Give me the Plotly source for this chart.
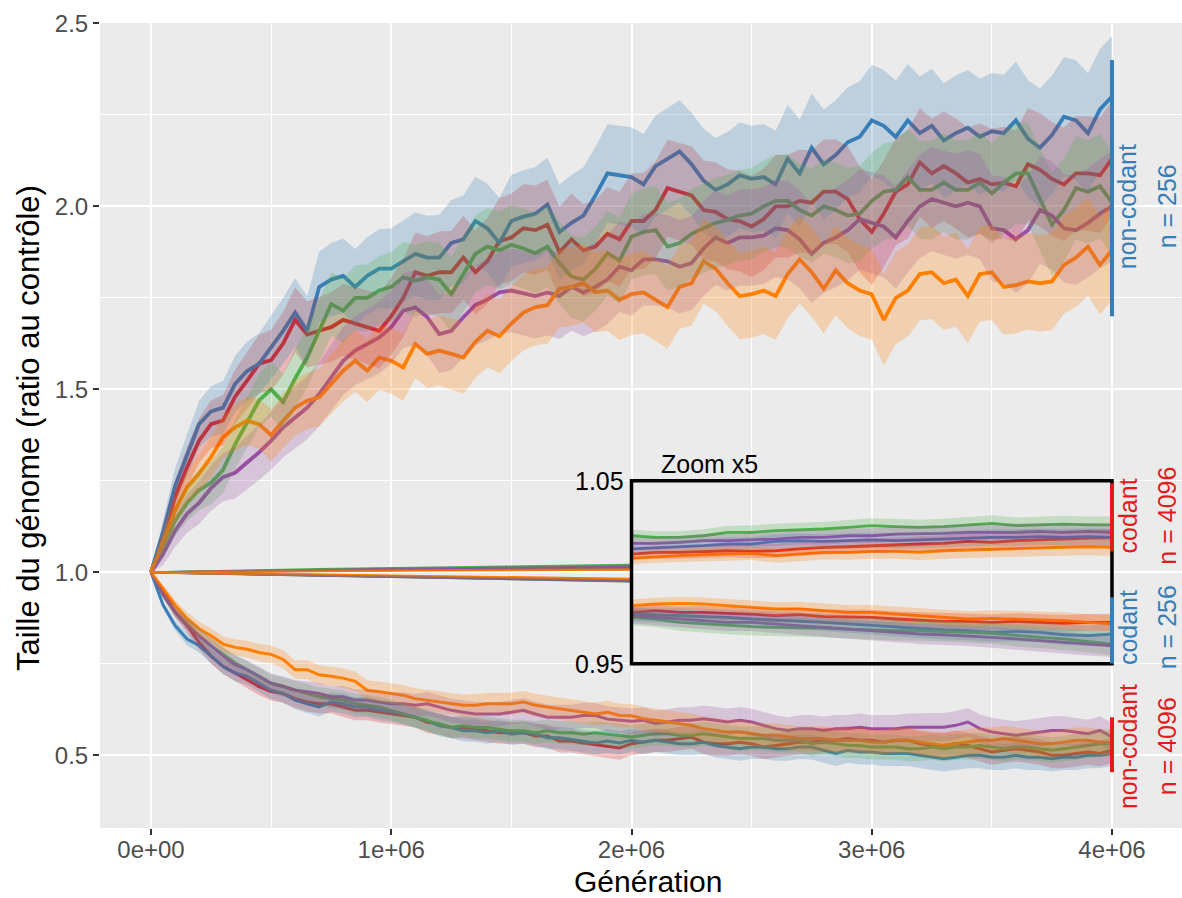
import plotly.graph_objects as go

# ---------------------------------------------------------------------------
# Data: genome size relative to control, 5 replicate lineages per condition
# ---------------------------------------------------------------------------
GENERATIONS = list(range(0, 4_000_001, 50_000))          # non-coding runs
GENERATIONS_CODING = list(range(0, 4_000_001, 100_000))  # coding runs

# non-coding, n = 256
NC256_RED = [1.000, 1.096, 1.205, 1.287, 1.360, 1.405, 1.415, 1.480, 1.524, 1.570,
             1.580, 1.625, 1.690, 1.650, 1.660, 1.670, 1.690, 1.680, 1.670, 1.660,
             1.700, 1.750, 1.820, 1.810, 1.820, 1.820, 1.860, 1.820, 1.850, 1.905,
             1.915, 1.940, 1.935, 1.950, 1.875, 1.910, 1.880, 1.890, 1.925, 1.910,
             1.960, 1.960, 1.990, 2.050, 2.040, 2.030, 1.990, 1.985, 1.965, 1.960,
             1.945, 1.965, 2.000, 2.000, 2.015, 2.010, 2.040, 2.040, 2.020, 1.965,
             1.930, 1.980, 2.040, 2.060, 2.120, 2.090, 2.110, 2.090, 2.065, 2.075,
             2.060, 2.065, 2.055, 2.115, 2.100, 2.075, 2.060, 2.090, 2.090, 2.085,
             2.130]
NC256_BLUE = [1.000, 1.110, 1.235, 1.320, 1.405, 1.440, 1.450, 1.515, 1.550, 1.570,
              1.615, 1.660, 1.710, 1.660, 1.780, 1.800, 1.810, 1.780, 1.810, 1.830,
              1.830, 1.850, 1.870, 1.860, 1.860, 1.900, 1.910, 1.960, 1.940, 1.900,
              1.960, 1.972, 1.980, 2.005, 1.930, 1.955, 1.975, 2.030, 2.090, 2.085,
              2.080, 2.060, 2.110, 2.130, 2.150, 2.115, 2.070, 2.045, 2.060, 2.085,
              2.075, 2.080, 2.060, 2.130, 2.090, 2.160, 2.115, 2.140, 2.175, 2.190,
              2.235, 2.220, 2.190, 2.235, 2.200, 2.220, 2.180, 2.200, 2.215, 2.190,
              2.205, 2.200, 2.235, 2.185, 2.160, 2.195, 2.245, 2.235, 2.200, 2.265,
              2.300]
NC256_GREEN = [1.000, 1.068, 1.141, 1.190, 1.225, 1.245, 1.280, 1.350, 1.410, 1.470,
               1.500, 1.465, 1.530, 1.587, 1.660, 1.733, 1.715, 1.750, 1.750, 1.770,
               1.780, 1.806, 1.797, 1.806, 1.800, 1.760, 1.815, 1.870, 1.890, 1.880,
               1.895, 1.885, 1.872, 1.890, 1.845, 1.808, 1.800, 1.830, 1.872, 1.852,
               1.917, 1.930, 1.935, 1.890, 1.900, 1.925, 1.940, 1.955, 1.963, 1.975,
               1.980, 2.000, 2.015, 2.015, 1.990, 1.975, 2.000, 1.990, 1.975, 1.980,
               2.015, 2.040, 2.045, 2.080, 2.045, 2.045, 2.065, 2.045, 2.045, 2.065,
               2.035, 2.065, 2.090, 2.090, 2.020, 1.950, 1.990, 2.050, 2.040, 2.055,
               2.010]
NC256_PURPLE = [1.000, 1.050, 1.114, 1.160, 1.190, 1.230, 1.260, 1.272, 1.300, 1.328,
                1.360, 1.396, 1.423, 1.450, 1.487, 1.533, 1.578, 1.606, 1.624, 1.642,
                1.670, 1.715, 1.724, 1.697, 1.651, 1.660, 1.697, 1.730, 1.745, 1.765,
                1.770, 1.763, 1.755, 1.765, 1.755, 1.780, 1.765, 1.780, 1.800, 1.835,
                1.825, 1.855, 1.855, 1.850, 1.835, 1.845, 1.885, 1.915, 1.900, 1.915,
                1.915, 1.920, 1.940, 1.935, 1.910, 1.870, 1.900, 1.915, 1.935, 1.965,
                1.955, 1.945, 1.915, 1.960, 2.000, 2.020, 2.010, 2.000, 2.010, 2.000,
                1.940, 1.935, 1.910, 1.935, 1.990, 1.975, 1.940, 1.935, 1.955, 1.980,
                2.000]
NC256_ORANGE = [1.000, 1.087, 1.169, 1.232, 1.270, 1.315, 1.370, 1.396, 1.414, 1.405,
                1.375, 1.414, 1.450, 1.469, 1.478, 1.515, 1.551, 1.578, 1.551, 1.587,
                1.578, 1.560, 1.624, 1.597, 1.606, 1.597, 1.587, 1.630, 1.660, 1.645,
                1.680, 1.710, 1.725, 1.730, 1.775, 1.780, 1.790, 1.765, 1.770, 1.745,
                1.760, 1.765, 1.745, 1.725, 1.780, 1.790, 1.850, 1.830, 1.790, 1.755,
                1.760, 1.770, 1.755, 1.815, 1.855, 1.820, 1.775, 1.825, 1.790, 1.770,
                1.760, 1.690, 1.750, 1.770, 1.815, 1.820, 1.790, 1.800, 1.755, 1.815,
                1.820, 1.780, 1.785, 1.795, 1.790, 1.795, 1.840, 1.860, 1.890, 1.840,
                1.880]

# non-coding, n = 4096
NC4096_RED = [1.000, 0.948, 0.892, 0.855, 0.809, 0.771, 0.743, 0.725, 0.706, 0.688,
              0.674, 0.669, 0.655, 0.646, 0.641, 0.641, 0.632, 0.623, 0.623, 0.618,
              0.613, 0.609, 0.604, 0.590, 0.586, 0.576, 0.576, 0.572, 0.567, 0.562,
              0.562, 0.562, 0.553, 0.553, 0.539, 0.539, 0.534, 0.530, 0.525, 0.520,
              0.532, 0.536, 0.541, 0.541, 0.546, 0.550, 0.536, 0.532, 0.532, 0.536,
              0.532, 0.523, 0.527, 0.532, 0.536, 0.536, 0.541, 0.541, 0.546, 0.541,
              0.541, 0.536, 0.541, 0.541, 0.532, 0.527, 0.527, 0.532, 0.527, 0.518,
              0.509, 0.514, 0.518, 0.514, 0.509, 0.500, 0.500, 0.505, 0.509, 0.505,
              0.514]
NC4096_BLUE = [1.000, 0.911, 0.855, 0.818, 0.800, 0.771, 0.743, 0.725, 0.716, 0.697,
               0.678, 0.669, 0.651, 0.641, 0.632, 0.646, 0.641, 0.632, 0.632, 0.623,
               0.620, 0.613, 0.604, 0.595, 0.581, 0.576, 0.567, 0.567, 0.562, 0.567,
               0.558, 0.562, 0.558, 0.548, 0.548, 0.544, 0.539, 0.534, 0.539, 0.534,
               0.541, 0.536, 0.541, 0.536, 0.532, 0.532, 0.536, 0.527, 0.523, 0.518,
               0.523, 0.523, 0.518, 0.518, 0.523, 0.523, 0.514, 0.505, 0.514, 0.509,
               0.509, 0.505, 0.505, 0.505, 0.500, 0.495, 0.491, 0.495, 0.500, 0.500,
               0.495, 0.495, 0.500, 0.495, 0.495, 0.491, 0.495, 0.495, 0.500, 0.500,
               0.505]
NC4096_GREEN = [1.000, 0.939, 0.892, 0.860, 0.827, 0.799, 0.776, 0.753, 0.734, 0.716,
                0.697, 0.688, 0.678, 0.669, 0.660, 0.655, 0.651, 0.641, 0.637, 0.632,
                0.623, 0.613, 0.604, 0.595, 0.586, 0.576, 0.581, 0.576, 0.576, 0.572,
                0.567, 0.567, 0.562, 0.567, 0.562, 0.562, 0.558, 0.562, 0.558, 0.553,
                0.550, 0.555, 0.559, 0.559, 0.555, 0.555, 0.559, 0.555, 0.550, 0.546,
                0.546, 0.546, 0.541, 0.541, 0.541, 0.532, 0.536, 0.532, 0.527, 0.527,
                0.523, 0.523, 0.523, 0.518, 0.518, 0.523, 0.518, 0.523, 0.523, 0.527,
                0.523, 0.518, 0.523, 0.523, 0.518, 0.514, 0.518, 0.523, 0.527, 0.532,
                0.532]
NC4096_PURPLE = [1.000, 0.939, 0.892, 0.855, 0.827, 0.799, 0.771, 0.748, 0.734, 0.716,
                 0.697, 0.688, 0.678, 0.674, 0.669, 0.660, 0.660, 0.651, 0.651, 0.646,
                 0.641, 0.641, 0.637, 0.641, 0.632, 0.623, 0.618, 0.613, 0.613, 0.613,
                 0.618, 0.623, 0.613, 0.604, 0.604, 0.604, 0.609, 0.609, 0.599, 0.595,
                 0.593, 0.596, 0.587, 0.591, 0.596, 0.596, 0.600, 0.596, 0.591, 0.596,
                 0.591, 0.582, 0.573, 0.568, 0.573, 0.573, 0.568, 0.573, 0.573, 0.577,
                 0.573, 0.573, 0.573, 0.577, 0.577, 0.577, 0.577, 0.582, 0.591, 0.573,
                 0.564, 0.559, 0.555, 0.559, 0.564, 0.568, 0.568, 0.564, 0.559, 0.568,
                 0.550]
NC4096_ORANGE = [1.000, 0.957, 0.911, 0.874, 0.846, 0.827, 0.804, 0.795, 0.790, 0.781,
                 0.776, 0.762, 0.734, 0.734, 0.720, 0.716, 0.711, 0.702, 0.678, 0.674,
                 0.669, 0.664, 0.655, 0.651, 0.646, 0.641, 0.637, 0.637, 0.641, 0.641,
                 0.641, 0.646, 0.637, 0.632, 0.627, 0.623, 0.618, 0.613, 0.618, 0.609,
                 0.608, 0.600, 0.596, 0.591, 0.587, 0.582, 0.573, 0.568, 0.564, 0.564,
                 0.559, 0.555, 0.555, 0.550, 0.546, 0.546, 0.546, 0.541, 0.541, 0.541,
                 0.536, 0.536, 0.541, 0.541, 0.536, 0.532, 0.527, 0.532, 0.536, 0.541,
                 0.541, 0.546, 0.541, 0.536, 0.532, 0.532, 0.536, 0.541, 0.541, 0.536,
                 0.536]

# coding, n = 4096
C4096_RED = [1.0000, 1.0008, 1.0015, 1.0022, 1.0028, 1.0034, 1.0040, 1.0046, 1.0051, 1.0057,
             1.0062, 1.0067, 1.0072, 1.0077, 1.0081, 1.0085, 1.0089, 1.0093, 1.0096, 1.0098,
             1.0100, 1.0109, 1.0109, 1.0115, 1.0118, 1.0115, 1.0118, 1.0128, 1.0137, 1.0140,
             1.0146, 1.0151, 1.0155, 1.0158, 1.0169, 1.0164, 1.0173, 1.0177, 1.0182, 1.0188,
             1.0191]
C4096_BLUE = [1.0000, 1.0010, 1.0019, 1.0027, 1.0035, 1.0042, 1.0049, 1.0056, 1.0063, 1.0070,
              1.0077, 1.0083, 1.0089, 1.0095, 1.0101, 1.0106, 1.0111, 1.0116, 1.0120, 1.0124,
              1.0128, 1.0133, 1.0137, 1.0146, 1.0155, 1.0155, 1.0169, 1.0173, 1.0169, 1.0173,
              1.0177, 1.0173, 1.0177, 1.0182, 1.0188, 1.0191, 1.0191, 1.0195, 1.0191, 1.0195,
              1.0191]
C4096_GREEN = [1.0000, 1.0016, 1.0030, 1.0041, 1.0052, 1.0063, 1.0075, 1.0086, 1.0095, 1.0106,
               1.0117, 1.0126, 1.0136, 1.0145, 1.0153, 1.0162, 1.0171, 1.0180, 1.0188, 1.0195,
               1.0200, 1.0191, 1.0191, 1.0200, 1.0219, 1.0219, 1.0228, 1.0231, 1.0237, 1.0246,
               1.0255, 1.0250, 1.0246, 1.0250, 1.0260, 1.0268, 1.0255, 1.0260, 1.0264, 1.0259,
               1.0259]
C4096_PURPLE = [1.0000, 1.0012, 1.0023, 1.0032, 1.0041, 1.0050, 1.0059, 1.0067, 1.0075, 1.0084,
                1.0092, 1.0100, 1.0107, 1.0115, 1.0122, 1.0129, 1.0136, 1.0143, 1.0149, 1.0154,
                1.0158, 1.0158, 1.0164, 1.0173, 1.0173, 1.0177, 1.0182, 1.0191, 1.0191, 1.0200,
                1.0200, 1.0209, 1.0209, 1.0213, 1.0219, 1.0219, 1.0219, 1.0224, 1.0219, 1.0224,
                1.0219]
C4096_ORANGE = [1.0000, 1.0007, 1.0013, 1.0018, 1.0023, 1.0028, 1.0033, 1.0038, 1.0042, 1.0046,
                1.0050, 1.0054, 1.0058, 1.0062, 1.0065, 1.0068, 1.0071, 1.0073, 1.0075, 1.0077,
                1.0078, 1.0086, 1.0091, 1.0097, 1.0100, 1.0104, 1.0091, 1.0100, 1.0109, 1.0109,
                1.0115, 1.0115, 1.0109, 1.0118, 1.0122, 1.0128, 1.0133, 1.0137, 1.0137, 1.0140,
                1.0137]

# coding, n = 256
C256_RED = [1.0000, 0.9989, 0.9978, 0.9967, 0.9957, 0.9946, 0.9935, 0.9924, 0.9913, 0.9902,
            0.9891, 0.9880, 0.9869, 0.9858, 0.9847, 0.9836, 0.9825, 0.9814, 0.9803, 0.9792,
            0.9781, 0.9791, 0.9781, 0.9781, 0.9776, 0.9772, 0.9763, 0.9769, 0.9758, 0.9754,
            0.9754, 0.9745, 0.9740, 0.9732, 0.9732, 0.9727, 0.9732, 0.9727, 0.9721, 0.9727,
            0.9727]
C256_BLUE = [1.0000, 0.9989, 0.9978, 0.9967, 0.9956, 0.9945, 0.9934, 0.9923, 0.9912, 0.9901,
             0.9890, 0.9879, 0.9868, 0.9857, 0.9845, 0.9834, 0.9823, 0.9812, 0.9801, 0.9787,
             0.9772, 0.9769, 0.9763, 0.9758, 0.9754, 0.9745, 0.9740, 0.9732, 0.9727, 0.9718,
             0.9709, 0.9699, 0.9690, 0.9685, 0.9681, 0.9672, 0.9678, 0.9672, 0.9659, 0.9654,
             0.9663]
C256_GREEN = [1.0000, 0.9988, 0.9976, 0.9964, 0.9952, 0.9940, 0.9928, 0.9916, 0.9904, 0.9892,
              0.9880, 0.9868, 0.9856, 0.9843, 0.9830, 0.9817, 0.9804, 0.9791, 0.9779, 0.9766,
              0.9754, 0.9745, 0.9727, 0.9718, 0.9709, 0.9703, 0.9699, 0.9699, 0.9696, 0.9690,
              0.9685, 0.9681, 0.9681, 0.9678, 0.9672, 0.9667, 0.9654, 0.9645, 0.9636, 0.9623,
              0.9608]
C256_PURPLE = [1.0000, 0.9988, 0.9976, 0.9964, 0.9953, 0.9941, 0.9929, 0.9917, 0.9905, 0.9893,
               0.9881, 0.9869, 0.9857, 0.9845, 0.9833, 0.9821, 0.9809, 0.9797, 0.9786, 0.9775,
               0.9763, 0.9754, 0.9745, 0.9736, 0.9727, 0.9727, 0.9718, 0.9709, 0.9699, 0.9690,
               0.9681, 0.9672, 0.9663, 0.9659, 0.9654, 0.9645, 0.9636, 0.9627, 0.9617, 0.9605,
               0.9599]
C256_ORANGE = [1.0000, 0.9991, 0.9982, 0.9973, 0.9965, 0.9956, 0.9947, 0.9938, 0.9929, 0.9921,
               0.9912, 0.9903, 0.9894, 0.9885, 0.9876, 0.9867, 0.9858, 0.9849, 0.9840, 0.9829,
               0.9818, 0.9827, 0.9831, 0.9827, 0.9818, 0.9809, 0.9800, 0.9800, 0.9791, 0.9781,
               0.9781, 0.9772, 0.9763, 0.9754, 0.9745, 0.9749, 0.9745, 0.9740, 0.9736, 0.9727,
               0.9718]

# half-widths of the confidence bands
BAND_NC256 = [0.000, 0.030, 0.045, 0.052, 0.058, 0.062, 0.066, 0.070, 0.073, 0.076,
              0.079, 0.082, 0.085, 0.086, 0.088, 0.091, 0.093, 0.094, 0.096, 0.098,
              0.100, 0.102, 0.103, 0.104, 0.106, 0.107, 0.109, 0.110, 0.111, 0.112,
              0.114, 0.115, 0.116, 0.117, 0.118, 0.119, 0.120, 0.121, 0.122, 0.123,
              0.124, 0.125, 0.126, 0.126, 0.127, 0.128, 0.129, 0.129, 0.130, 0.131,
              0.132, 0.132, 0.133, 0.134, 0.134, 0.135, 0.136, 0.136, 0.137, 0.138,
              0.138, 0.139, 0.140, 0.140, 0.141, 0.142, 0.142, 0.143, 0.143, 0.144,
              0.145, 0.145, 0.146, 0.146, 0.147, 0.148, 0.148, 0.149, 0.149, 0.150,
              0.150]
BAND_NC4096 = [0.000, 0.010, 0.014, 0.017, 0.019, 0.020, 0.021, 0.022, 0.023, 0.024,
               0.024, 0.025, 0.025, 0.026, 0.026, 0.026, 0.027, 0.027, 0.027, 0.028,
               0.028, 0.028, 0.028, 0.029, 0.029, 0.029, 0.029, 0.030, 0.030, 0.030,
               0.030, 0.030, 0.031, 0.031, 0.031, 0.031, 0.031, 0.031, 0.032, 0.032,
               0.032, 0.032, 0.032, 0.032, 0.032, 0.032, 0.033, 0.033, 0.033, 0.033,
               0.033, 0.033, 0.033, 0.033, 0.033, 0.034, 0.034, 0.034, 0.034, 0.034,
               0.034, 0.034, 0.034, 0.034, 0.034, 0.035, 0.035, 0.035, 0.035, 0.035,
               0.035, 0.035, 0.035, 0.035, 0.035, 0.035, 0.035, 0.035, 0.035, 0.035,
               0.035]
BAND_CODING = [0.0, 0.0006, 0.0009, 0.0012, 0.0014, 0.0016, 0.0018, 0.0019, 0.0021, 0.0022,
               0.0023, 0.0024, 0.0025, 0.0026, 0.0027, 0.0028, 0.0029, 0.0030, 0.0031, 0.0032,
               0.0033, 0.0034, 0.0035, 0.0036, 0.0036, 0.0037, 0.0038, 0.0039, 0.0039, 0.0040,
               0.0041, 0.0041, 0.0042, 0.0043, 0.0043, 0.0044, 0.0045, 0.0045, 0.0046, 0.0046,
               0.0047]

# axis ticks
X_TICKS = [0, 1_000_000, 2_000_000, 3_000_000, 4_000_000]
X_TICK_LABELS = ["0e+00", "1e+06", "2e+06", "3e+06", "4e+06"]
X_MINOR = [500_000, 1_500_000, 2_500_000, 3_500_000]
Y_TICKS = [0.5, 1.0, 1.5, 2.0, 2.5]
Y_TICK_LABELS = ["0.5", "1.0", "1.5", "2.0", "2.5"]
Y_MINOR = [0.75, 1.25, 1.75, 2.25]

# inset (coding runs, second half, magnified around 1)
ZOOM = 5
INSET_START = 2_000_000
INSET_END = 4_000_000
INSET_LABELS = ["1.05", "0.95"]
INSET_LABEL_VALUES = [1.05, 0.95]

# condition brackets on the right
BRACKET_LOW = [1.70, 1.057, 0.751, 0.454]
BRACKET_HIGH = [2.40, 1.243, 0.932, 0.604]
BRACKET_KIND = ["non-codant", "codant", "codant", "non-codant"]
BRACKET_SIZE = ["n = 256", "n = 4096", "n = 256", "n = 4096"]
BRACKET_LABEL_Y = [2.0, 1.155, 0.85, 0.525]
BRACKET_COLOR = ["blue", "red", "blue", "red"]

# ---------------------------------------------------------------------------
PALETTE = {"red": "#E41A1C", "blue": "#377EB8", "green": "#4DAF4A",
           "purple": "#984EA3", "orange": "#FF7F00"}
ORDER = ["red", "blue", "green", "purple", "orange"]
FONT = "Liberation Sans, Arial, Helvetica, sans-serif"
BAND_ALPHA = 0.25


def rgba(hex_color, alpha):
    h = hex_color.lstrip("#")
    r, g, b = int(h[0:2], 16), int(h[2:4], 16), int(h[4:6], 16)
    return f"rgba({r},{g},{b},{alpha})"


def magnify(v):
    return 1 + ZOOM * (v - 1)


fig = go.Figure()


def add_group(x, series, band, spread, width, lo=0, hi=None, scale=None):
    """Lines of one condition, then their confidence bands on top."""
    hi = len(x) if hi is None else hi
    xs = x[lo:hi]
    fy = scale if scale else (lambda v: v)
    for name in ORDER:
        ys = [fy(v) for v in series[name][lo:hi]]
        fig.add_trace(go.Scatter(x=xs, y=ys, mode="lines",
                                 line=dict(color=PALETTE[name], width=width),
                                 hoverinfo="skip", showlegend=False))
    for name in ORDER:
        vals = series[name][lo:hi]
        hw = [b * spread.get(name, 1.0) for b in band[lo:hi]]
        upper = [fy(v + h) for v, h in zip(vals, hw)]
        lower = [fy(v - h) for v, h in zip(vals, hw)]
        fig.add_trace(go.Scatter(x=xs + xs[::-1], y=upper + lower[::-1],
                                 mode="lines", fill="toself",
                                 fillcolor=rgba(PALETTE[name], BAND_ALPHA),
                                 line=dict(width=0), hoverinfo="skip",
                                 showlegend=False))


nc256 = {"red": NC256_RED, "blue": NC256_BLUE, "green": NC256_GREEN,
         "purple": NC256_PURPLE, "orange": NC256_ORANGE}
nc4096 = {"red": NC4096_RED, "blue": NC4096_BLUE, "green": NC4096_GREEN,
          "purple": NC4096_PURPLE, "orange": NC4096_ORANGE}
c4096 = {"red": C4096_RED, "blue": C4096_BLUE, "green": C4096_GREEN,
         "purple": C4096_PURPLE, "orange": C4096_ORANGE}
c256 = {"red": C256_RED, "blue": C256_BLUE, "green": C256_GREEN,
        "purple": C256_PURPLE, "orange": C256_ORANGE}

add_group(GENERATIONS, nc256, BAND_NC256,
          {"blue": 1.1, "red": 1.05, "green": 0.95, "orange": 0.9}, 3.8)
add_group(GENERATIONS, nc4096, BAND_NC4096, {"purple": 1.1}, 3.0)

split = GENERATIONS_CODING.index(INSET_START)
coding_spread_256 = {"blue": 1.2, "purple": 1.3, "green": 1.3}
for grp, spread in ((c4096, {}), (c256, coding_spread_256)):
    add_group(GENERATIONS_CODING, grp, BAND_CODING, spread, 2.4, 0, split + 1)
for grp, spread in ((c4096, {}), (c256, coding_spread_256)):
    add_group(GENERATIONS_CODING, grp, BAND_CODING, spread, 2.8, split, None,
              scale=magnify)

# inset frame
shapes = [dict(type="rect", xref="x", yref="y", x0=INSET_START, x1=INSET_END,
               y0=magnify(INSET_LABEL_VALUES[1]), y1=magnify(INSET_LABEL_VALUES[0]),
               line=dict(color="black", width=3.5), fillcolor="rgba(0,0,0,0)",
               layer="above")]
for y0, y1, col in zip(BRACKET_LOW, BRACKET_HIGH, BRACKET_COLOR):
    shapes.append(dict(type="line", xref="x", yref="y", x0=INSET_END, x1=INSET_END,
                       y0=y0, y1=y1, line=dict(color=PALETTE[col], width=4),
                       layer="above"))

annotations = []
for txt, v in zip(INSET_LABELS, INSET_LABEL_VALUES):
    annotations.append(dict(x=INSET_START, y=magnify(v), xref="x", yref="y",
                            text=txt, showarrow=False, xanchor="right",
                            yanchor="middle", xshift=-6,
                            font=dict(family=FONT, size=25, color="black")))
annotations.append(dict(x=2_114_000, y=1.297, xref="x", yref="y", text="Zoom x5",
                        showarrow=False, xanchor="left", yanchor="middle",
                        font=dict(family=FONT, size=25, color="black")))
for kind, size, ly, col in zip(BRACKET_KIND, BRACKET_SIZE, BRACKET_LABEL_Y, BRACKET_COLOR):
    annotations.append(dict(x=4_066_000, y=ly, xref="x", yref="y", text=kind,
                            textangle=-90, showarrow=False, xanchor="center",
                            yanchor="middle",
                            font=dict(family=FONT, size=25, color=PALETTE[col])))
    annotations.append(dict(x=4_229_000, y=ly, xref="x", yref="y", text=size,
                            textangle=-90, showarrow=False, xanchor="center",
                            yanchor="middle",
                            font=dict(family=FONT, size=25, color=PALETTE[col])))

# axis titles
annotations.append(dict(x=0.5069, y=-0.0448, xref="paper", yref="paper",
                        text="Génération", showarrow=False, xanchor="center",
                        yanchor="top", borderpad=0,
                        font=dict(family=FONT, size=30, color="black")))
annotations.append(dict(x=-0.0656, y=0.4969, xref="paper", yref="paper",
                        text="Taille du génome (ratio au contrôle)", textangle=-90,
                        showarrow=False, xanchor="center", yanchor="middle",
                        font=dict(family=FONT, size=31, color="black")))

fig.update_layout(
    width=1182, height=898,
    margin=dict(l=100, r=0, t=23, b=70),
    paper_bgcolor="white", plot_bgcolor="#EBEBEB",
    showlegend=False,
    font=dict(family=FONT, size=24, color="#4D4D4D"),
    shapes=shapes, annotations=annotations,
)
axis_common = dict(ticks="outside", ticklen=6, tickwidth=2, tickcolor="#333333",
                   showgrid=True, gridcolor="white", gridwidth=2.2,
                   zeroline=False, showline=False,
                   tickfont=dict(family=FONT, size=24, color="#4D4D4D"))
fig.update_xaxes(range=[-212_300, 4_291_400], tickmode="array", tickvals=X_TICKS,
                 ticktext=X_TICK_LABELS, ticklabelstandoff=-6,
                 minor=dict(tickmode="array", tickvals=X_MINOR, showgrid=True,
                            gridcolor="white", gridwidth=1.1, ticks=""),
                 **axis_common)
fig.update_yaxes(range=[0.3015, 2.501], tickmode="array", tickvals=Y_TICKS,
                 ticktext=Y_TICK_LABELS,
                 minor=dict(tickmode="array", tickvals=Y_MINOR, showgrid=True,
                            gridcolor="white", gridwidth=1.1, ticks=""),
                 **axis_common)

fig.write_html("out.html")
